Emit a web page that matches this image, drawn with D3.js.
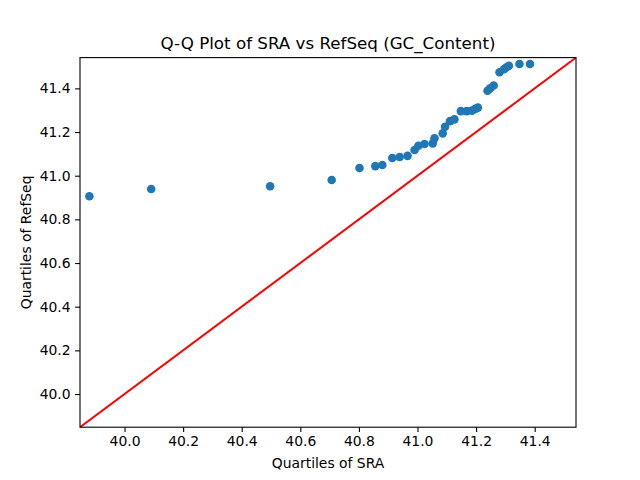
<!DOCTYPE html>
<html>
<head>
<meta charset="utf-8">
<script src="https://cdn.jsdelivr.net/npm/d3@7"></script>
<style>
body { margin: 0; background: #fff; }
svg { font-family: "DejaVu Sans", sans-serif; }
</style>
</head>
<body>
<svg width="640" height="480"></svg>
<script>
// quartiles
const sraQuartiles = [39.880, 40.091, 40.497, 40.707, 40.802, 40.856, 40.880, 40.914, 40.939, 40.966,
  40.990, 41.003, 41.024, 41.052, 41.058, 41.086, 41.094, 41.111, 41.126, 41.148,
  41.168, 41.186, 41.197, 41.206, 41.239, 41.248, 41.260, 41.280, 41.295, 41.304, 41.312, 41.348, 41.384];
const refseqQuartiles = [40.906, 40.939, 40.952, 40.980, 41.035, 41.044, 41.049, 41.081, 41.086, 41.091,
  41.118, 41.137, 41.145, 41.148, 41.171, 41.194, 41.224, 41.250, 41.258, 41.296,
  41.296, 41.298, 41.306, 41.312, 41.389, 41.400, 41.413, 41.474, 41.488, 41.497, 41.504, 41.512, 41.512];
const tickValues = [40.0, 40.2, 40.4, 40.6, 40.8, 41.0, 41.2, 41.4];
const axisMin = 39.848, axisMax = 41.541;

const svg = d3.select('svg');
const pLeft = 80, pRight = 576, pTop = 57.6, pBottom = 427.2;

const x = d3.scaleLinear().domain([axisMin, axisMax]).range([pLeft, pRight]);
const y = d3.scaleLinear().domain([axisMin, axisMax]).range([pBottom, pTop]);

const pts = sraQuartiles.map((v, i) => ({sx: v, ry: refseqQuartiles[i]}));

// clip area for the reference line
svg.append('clipPath').attr('id', 'clip')
  .append('rect').attr('x', pLeft).attr('y', pTop).attr('width', pRight - pLeft).attr('height', pBottom - pTop);

svg.selectAll('circle.pt').data(pts).enter().append('circle')
  .attr('class', 'pt')
  .attr('cx', d => x(d.sx))
  .attr('cy', d => y(d.ry))
  .attr('r', 4.3)
  .attr('fill', '#1f77b4');

// y = x reference line
svg.append('line')
  .attr('clip-path', 'url(#clip)')
  .attr('x1', x(axisMin)).attr('y1', y(axisMin))
  .attr('x2', x(axisMax)).attr('y2', y(axisMax))
  .attr('stroke', 'red').attr('stroke-width', 2);

const fmt = d3.format('.1f');
const xAxis = svg.append('g').attr('transform', `translate(0,${pBottom})`)
  .call(d3.axisBottom(x).tickValues(tickValues).tickFormat(fmt).tickSize(4.9).tickPadding(4.5));
const yAxis = svg.append('g').attr('transform', `translate(${pLeft},0)`)
  .call(d3.axisLeft(y).tickValues(tickValues).tickFormat(fmt).tickSize(4.9).tickPadding(4.5));
[xAxis, yAxis].forEach(a => {
  a.select('.domain').remove();
  a.selectAll('line').attr('stroke', '#000').attr('stroke-width', 1.1);
  a.selectAll('text').attr('font-size', '13.9px').attr('fill', '#000').attr('font-family', '"DejaVu Sans", sans-serif');
});

// frame
svg.append('rect')
  .attr('x', pLeft).attr('y', pTop).attr('width', pRight - pLeft).attr('height', pBottom - pTop)
  .attr('fill', 'none').attr('stroke', '#000').attr('stroke-width', 1.1);

svg.append('text')
  .attr('x', (pLeft + pRight) / 2).attr('y', 49)
  .attr('text-anchor', 'middle').attr('font-size', '16.7px')
  .text('Q-Q Plot of SRA vs RefSeq (GC_Content)');

svg.append('text')
  .attr('x', (pLeft + pRight) / 2).attr('y', 468)
  .attr('text-anchor', 'middle').attr('font-size', '13.9px')
  .text('Quartiles of SRA');

svg.append('text')
  .attr('transform', `translate(31,${(pTop + pBottom) / 2}) rotate(-90)`)
  .attr('text-anchor', 'middle').attr('font-size', '13.9px')
  .text('Quartiles of RefSeq');
</script>
</body>
</html>
